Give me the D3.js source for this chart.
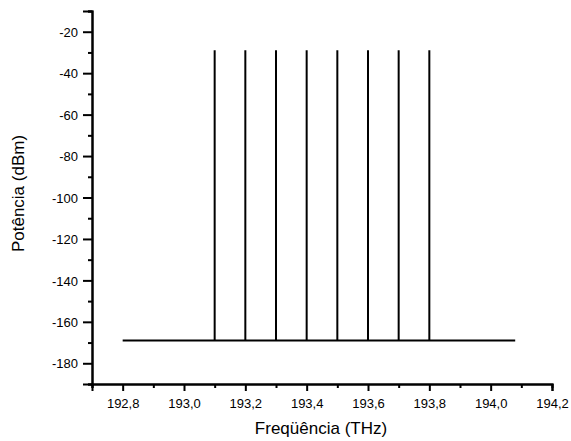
<!DOCTYPE html>
<html>
<head>
<meta charset="utf-8">
<script src="https://cdn.jsdelivr.net/npm/d3@7"></script>
<style>
  html, body { margin: 0; padding: 0; background: #fff; }
  svg { display: block; }
  text { font-family: "Liberation Sans", Arial, sans-serif; fill: #000; }
</style>
</head>
<body>
<svg id="chart" width="571" height="441"></svg>
<script>
// WDM channel comb: carrier frequencies (THz) and their power (dBm)
const channelFreqs = [193.1, 193.2, 193.3, 193.4, 193.5, 193.6, 193.7, 193.8];
const channelPower = [-29, -29, -29, -29, -29, -29, -29, -29];
// noise floor across the simulated band
const floorRange = [192.8, 194.08];
const floorPower = -169;

// axis ticks
const xTicks = [192.8, 193.0, 193.2, 193.4, 193.6, 193.8, 194.0, 194.2];
const xMinorTicks = [192.7, 192.9, 193.1, 193.3, 193.5, 193.7, 193.9, 194.1];
const yTicks = [-20, -40, -60, -80, -100, -120, -140, -160, -180];
const yMinorTicks = [-10, -30, -50, -70, -90, -110, -130, -150, -170, -190];

const svg = d3.select("#chart");
const margin = { left: 92, right: 19, top: 11, bottom: 57 };
const W = 571, H = 441;

const x = d3.scaleLinear().domain([192.7, 194.2]).range([margin.left, W - margin.right]);
const y = d3.scaleLinear().domain([-190, -10]).range([H - margin.bottom, margin.top]);

const fmtX = d => d.toFixed(1).replace(".", ",");
const fmtY = d => String(d);

// x axis
const gx = svg.append("g").attr("transform", `translate(0,${y(-190)})`);
gx.call(d3.axisBottom(x).tickValues(xTicks).tickSize(7).tickPadding(8).tickFormat(fmtX));
gx.append("g").call(d3.axisBottom(x).tickValues(xMinorTicks).tickSize(4).tickFormat(""));

// y axis
const gy = svg.append("g").attr("transform", `translate(${x(192.7)},0)`);
gy.call(d3.axisLeft(y).tickValues(yTicks).tickSize(9).tickPadding(5).tickFormat(fmtY));
gy.append("g").call(d3.axisLeft(y).tickValues(yMinorTicks).tickSize(4).tickFormat(""));

svg.selectAll(".domain").attr("stroke", "#000").attr("stroke-width", 2);
svg.selectAll(".tick line").attr("stroke", "#000").attr("stroke-width", 2);
svg.selectAll(".tick text").style("font-size", "13px").attr("fill", "#000");
gy.selectAll(".tick text").attr("dy", "0.36em");

// noise floor
svg.append("line")
  .attr("x1", x(floorRange[0])).attr("x2", x(floorRange[1]))
  .attr("y1", y(floorPower)).attr("y2", y(floorPower))
  .attr("stroke", "#000").attr("stroke-width", 2);

// channel peaks
svg.selectAll("line.peak")
  .data(channelFreqs.map((f, i) => ({ f, p: channelPower[i] })))
  .join("line")
  .attr("class", "peak")
  .attr("x1", d => x(d.f)).attr("x2", d => x(d.f))
  .attr("y1", y(floorPower)).attr("y2", d => y(d.p))
  .attr("stroke", "#000").attr("stroke-width", 2);

// axis titles
svg.append("text")
  .attr("x", (x(192.7) + x(194.2)) / 2 - 1)
  .attr("y", 434)
  .attr("text-anchor", "middle")
  .style("font-size", "17px")
  .text("Freqüência (THz)");

svg.append("text")
  .attr("transform", `translate(24,${(y(-10) + y(-190)) / 2 - 4}) rotate(-90)`)
  .attr("text-anchor", "middle")
  .style("font-size", "17px")
  .text("Potência (dBm)");
</script>
</body>
</html>
